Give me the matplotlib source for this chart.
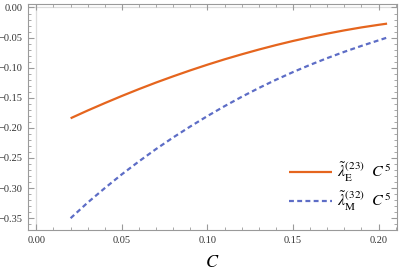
import numpy as np
import matplotlib.pyplot as plt
from matplotlib.ticker import MultipleLocator

# values
C = [0.02, 0.03, 0.04, 0.05, 0.06, 0.07, 0.08, 0.09, 0.10, 0.11,
     0.12, 0.13, 0.14, 0.15, 0.16, 0.17, 0.18, 0.19, 0.20, 0.205]
lam_E = [-0.1840, -0.1711, -0.1588, -0.1469, -0.1355, -0.1246, -0.1143,
         -0.1044, -0.0950, -0.0861, -0.0778, -0.0699, -0.0625, -0.0556,
         -0.0493, -0.0434, -0.0380, -0.0331, -0.0288, -0.0268]
lam_M = [-0.3500, -0.3240, -0.3000, -0.2770, -0.2555, -0.2350, -0.2158,
         -0.1976, -0.1803, -0.1639, -0.1484, -0.1338, -0.1201, -0.1073,
         -0.0953, -0.0841, -0.0736, -0.0638, -0.0546, -0.0500]

x_ticks = [0.00, 0.05, 0.10, 0.15, 0.20]
y_ticks = [0.00, -0.05, -0.10, -0.15, -0.20, -0.25, -0.30, -0.35]

plt.rcParams['font.family'] = ['Liberation Serif', 'DejaVu Serif']
plt.rcParams['mathtext.fontset'] = 'stix'

frame_col = '#9a9a9a'
orange = '#E5651E'
blue = '#5D6DC6'

fig = plt.figure(figsize=(3.99, 2.74), dpi=100)
ax = fig.add_axes([0.0702, 0.1606, 0.9248, 0.8248])

ax.axvline(0, color='#dcdcdc', lw=0.9, zorder=0)
ax.axhline(0, color='#dcdcdc', lw=0.9, zorder=0)

ax.plot(C, lam_E, color=orange, lw=1.6, solid_capstyle='butt',
        label=r'$\tilde{\lambda}_{\mathrm{E}}^{(23)}\ \ C^{5}$')
ax.plot(C, lam_M, color=blue, lw=1.6, dashes=(2.2, 1.5),
        label=r'$\tilde{\lambda}_{\mathrm{M}}^{(32)}\ \ C^{5}$')

ax.set_xlim(-0.0049, 0.2108)
ax.set_ylim(-0.3696, 0.0058)
ax.set_xticks(x_ticks)
ax.set_yticks(y_ticks)
ax.set_xticklabels([f'{v:.2f}' for v in x_ticks])
ax.set_yticklabels([f'{v:.2f}'.replace('-', '\u2212') for v in y_ticks])
ax.xaxis.set_minor_locator(MultipleLocator(0.01))
ax.yaxis.set_minor_locator(MultipleLocator(0.01))
ax.tick_params(which='both', direction='in', top=True, right=True,
               color=frame_col, labelsize=7.5, labelcolor='#333333')
ax.tick_params(which='major', length=4, width=0.8, pad=4)
ax.tick_params(which='minor', length=2.3, width=0.6)
for s in ax.spines.values():
    s.set_color(frame_col)
    s.set_linewidth(0.8)

ax.set_xlabel(r'$C$', fontsize=13, labelpad=7)

ax.legend(loc='center right', bbox_to_anchor=(1.022, 0.19), frameon=False,
          fontsize=11.5, handlelength=2.7, handletextpad=0.3, labelspacing=0.35)

fig.savefig('out.png', dpi=100)
